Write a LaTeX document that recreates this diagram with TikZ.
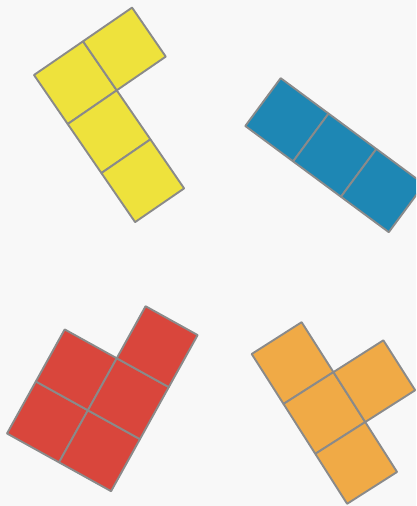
\documentclass[tikz,border=0pt]{standalone}
\usepackage{xcolor}
\definecolor{bgc}{RGB}{248,248,248}
\definecolor{edgec}{RGB}{138,138,138}
\definecolor{ycol}{RGB}{238,226,60}
\definecolor{bcol}{RGB}{30,135,180}
\definecolor{rcol}{RGB}{217,70,60}
\definecolor{ocol}{RGB}{240,170,70}
\tikzset{cell/.style={draw=edgec,line width=1.9pt,line join=round}}
\begin{document}
\begin{tikzpicture}
\fill[bgc] (0pt,0pt) rectangle (416pt,506pt);
\useasboundingbox (0pt,0pt) rectangle (416pt,506pt);
\clip (0pt,0pt) rectangle (416pt,506pt);
% yellow L
\begin{scope}[shift={(34pt,431pt)},rotate=-55.5,x=59.5pt,y=59.5pt]
  \foreach \i/\j in {0/0,1/0,2/0,0/1}
    \draw[cell,fill=ycol] (\i,\j) rectangle ++(1,1);
\end{scope}
% blue I3
\begin{scope}[shift={(245.3pt,380pt)},rotate=-36.5,x=59.5pt,y=59.5pt]
  \foreach \i/\j in {0/0,1/0,2/0}
    \draw[cell,fill=bcol] (\i,\j) rectangle ++(1,1);
\end{scope}
% red P
\begin{scope}[shift={(7pt,72.5pt)},rotate=-29,x=59.5pt,y=59.5pt]
  \foreach \i/\j in {0/0,1/0,0/1,1/1,1/2}
    \draw[cell,fill=rcol] (\i,\j) rectangle ++(1,1);
\end{scope}
% orange T
\begin{scope}[shift={(251.7pt,152pt)},rotate=-57.5,x=59.2pt,y=59.2pt]
  \foreach \i/\j in {0/0,1/0,2/0,1/1}
    \draw[cell,fill=ocol] (\i,\j) rectangle ++(1,1);
\end{scope}
\end{tikzpicture}
\end{document}
